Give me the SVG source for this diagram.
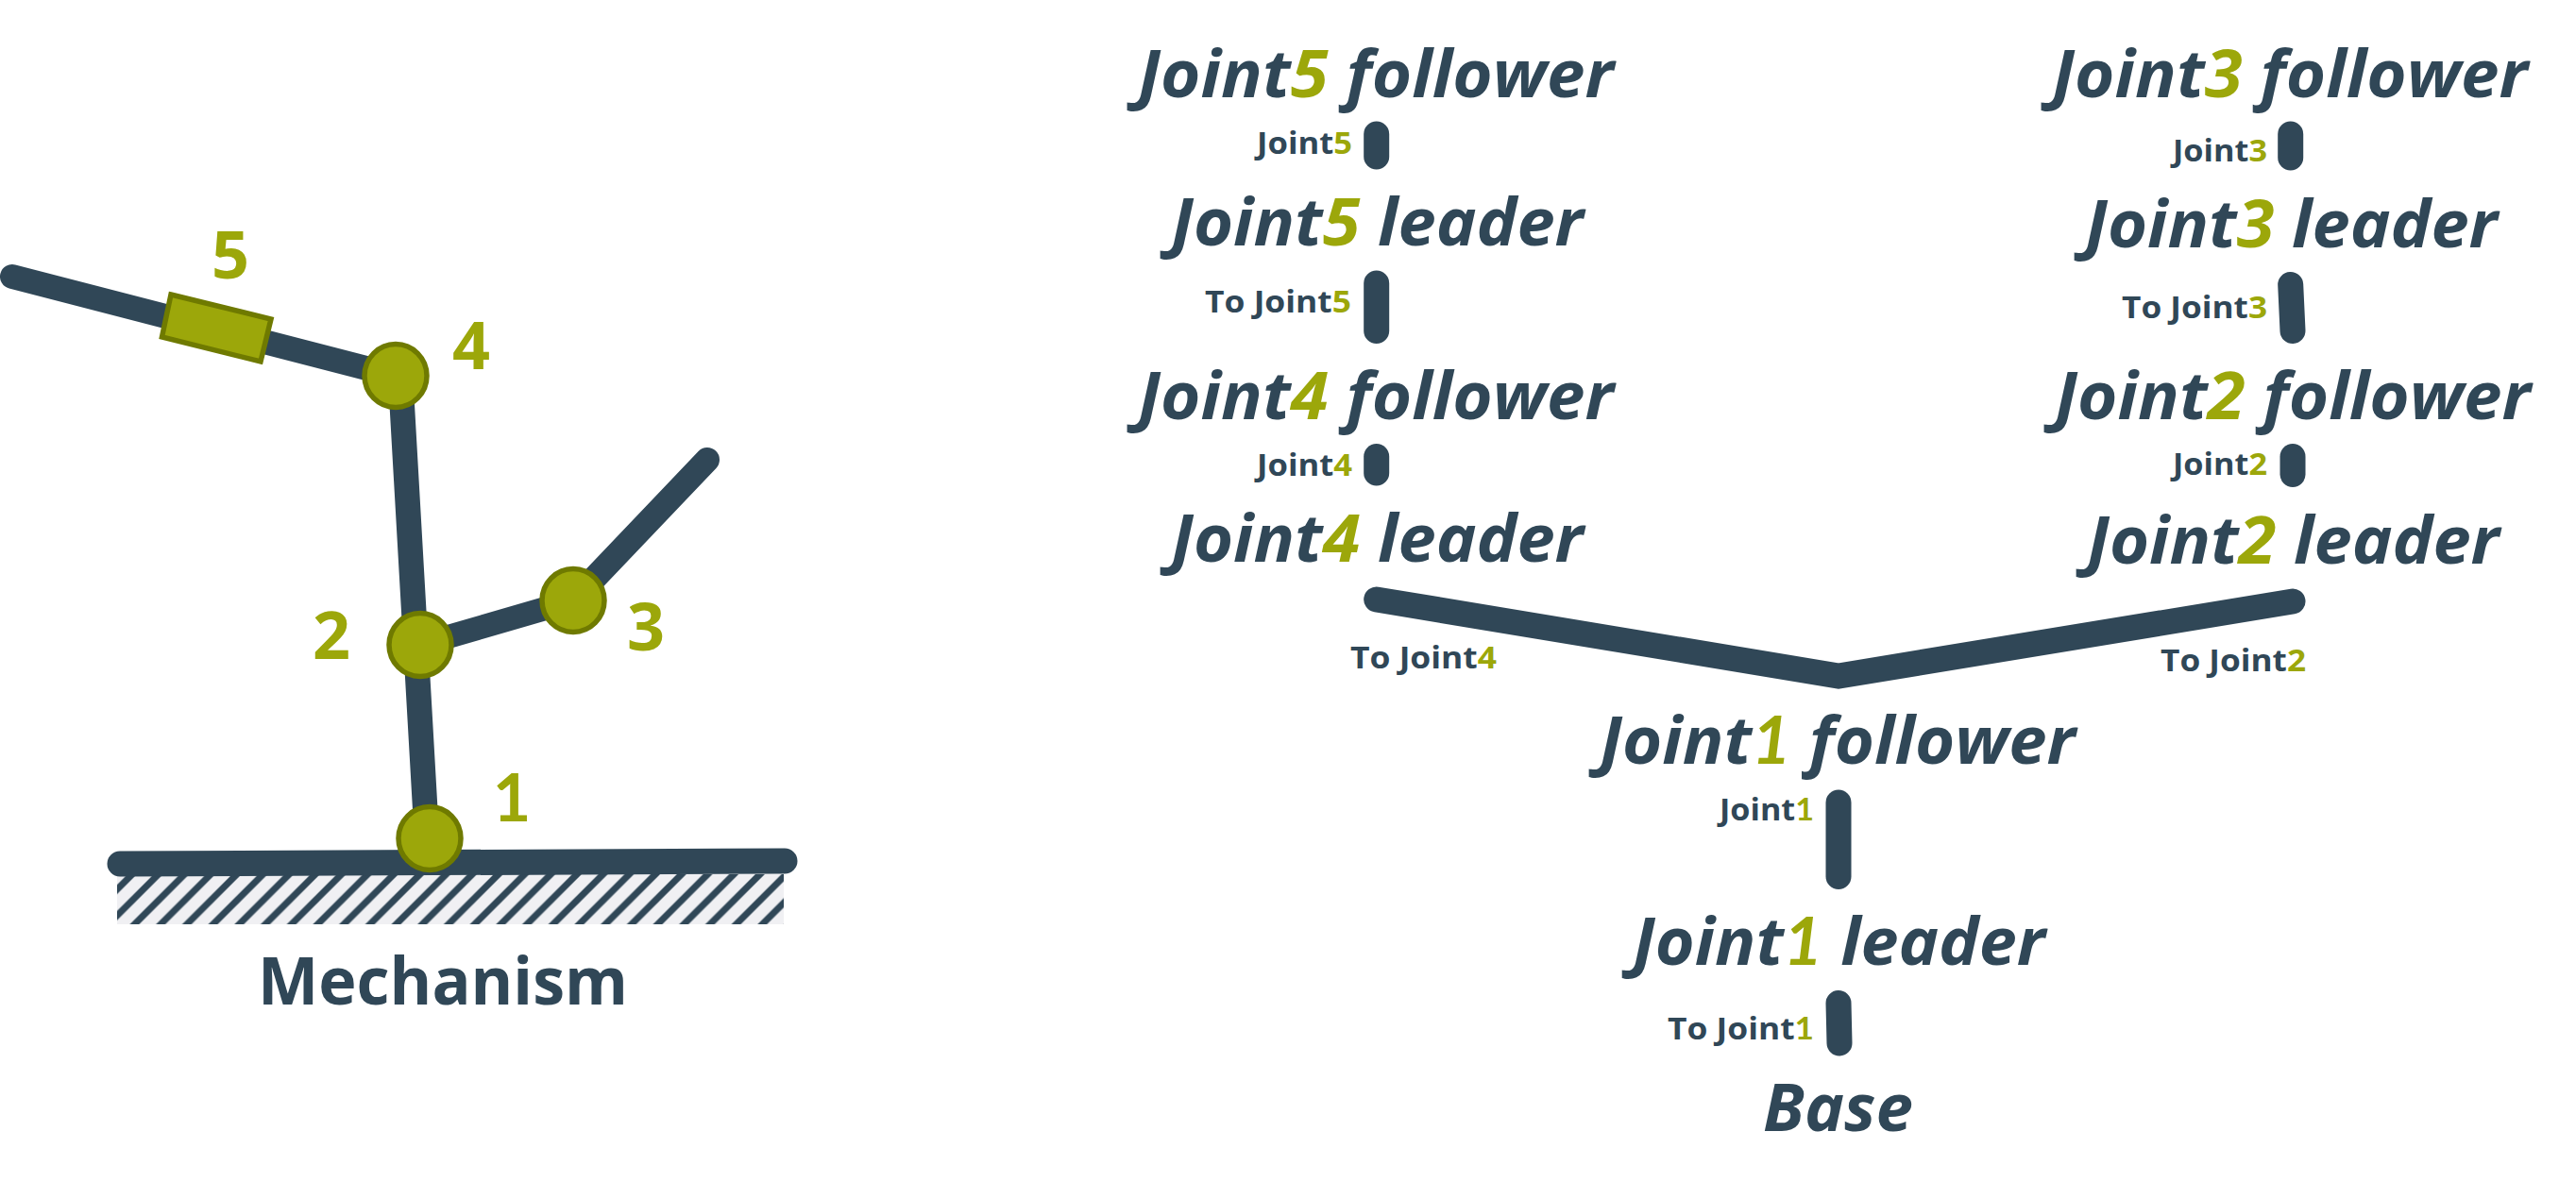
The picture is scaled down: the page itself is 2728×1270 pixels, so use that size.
<svg xmlns="http://www.w3.org/2000/svg" width="2728" height="1270" viewBox="0 0 2728 1270">
<style>
text{font-family:"Open Sans","Noto Sans","DejaVu Sans",sans-serif;fill:#304757}
.n{font-size:70px;font-weight:700;font-style:italic}
.l{font-size:33px;font-weight:700}
.d{font-size:70px;font-weight:700;fill:#9ca70a;text-anchor:middle}
.m{font-size:70px;font-weight:700}
tspan{fill:#9ca70a}
.one{font-family:Lato,"Open Sans",sans-serif}
.c{fill:none;stroke:#304757;stroke-linecap:round;stroke-width:27}
.j{fill:#9ca70a;stroke:#6f7a00;stroke-width:5.5}
</style>
<defs>
<pattern id="hatch" patternUnits="userSpaceOnUse" width="27.7" height="27.7" patternTransform="translate(140.100 926)">
<rect width="27.7" height="27.7" fill="#f0f0f3"/>
<path d="M-7 7L7-7M-7 34.7L34.7-7M20.7 34.7L34.7 20.700" stroke="#304757" stroke-width="7"/>
</pattern>
</defs>
<g id="mechanism">
<rect id="ground-hatch" x="124" y="926" width="706" height="53" fill="url(#hatch)"/>
<g id="links">
<path class="c" d="M127 915L831 912"/>
<path class="c" style="stroke-width:26.500" d="M452 888L424 398"/>
<path class="c" style="stroke-width:26" d="M13 293L419 398"/>
<path class="c" style="stroke-width:25" d="M445 683L607 636"/>
<path class="c" style="stroke-width:26" d="M749 487L607 636"/>
</g>
<g id="joint-1"><ellipse class="j" cx="455" cy="888" rx="33" ry="33.500"/><text class="d one" x="542" y="870">1</text></g>
<g id="joint-2"><ellipse class="j" cx="445" cy="683" rx="33" ry="33.500"/><text class="d" x="351" y="698">2</text></g>
<g id="joint-3"><ellipse class="j" cx="607" cy="636" rx="33" ry="33.500"/><text class="d" x="684" y="689">3</text></g>
<g id="joint-4"><ellipse class="j" cx="419" cy="398" rx="33" ry="33.500"/><text class="d" x="499" y="391">4</text></g>
<g id="joint-5"><path class="j" d="M181 312L287 338L276 383L171.500 357Z"/><text class="d" x="244" y="295">5</text></g>
<text id="mechanism-label" class="m" x="273" y="1064" textLength="392" lengthAdjust="spacingAndGlyphs">Mechanism</text>
</g>
<g id="connectors">
<path class="c" d="M1457.700 142V166"/>
<path class="c" d="M1457.700 300V350.500"/>
<path class="c" d="M1457.700 483.500V501"/>
<path class="c" style="stroke-linejoin:miter" d="M1457.700 635L1947 716L2428 637"/>
<path class="c" d="M2425.700 142V167"/>
<path class="c" d="M2425.700 301.500L2428 350.500"/>
<path class="c" d="M2428 483.500V502.500"/>
<path class="c" d="M1947 850V928.500"/>
<path class="c" d="M1947 1062.500L1948 1105"/>
<text class="l" x="1331" y="163" textLength="101" lengthAdjust="spacingAndGlyphs">Joint<tspan>5</tspan></text>
<text class="l" x="1276" y="331" textLength="155" lengthAdjust="spacingAndGlyphs">To Joint<tspan>5</tspan></text>
<text class="l" x="1331" y="504" textLength="101" lengthAdjust="spacingAndGlyphs">Joint<tspan>4</tspan></text>
<text class="l" x="1430" y="708" textLength="155" lengthAdjust="spacingAndGlyphs">To Joint<tspan>4</tspan></text>
<text class="l" x="2301" y="171" textLength="100" lengthAdjust="spacingAndGlyphs">Joint<tspan>3</tspan></text>
<text class="l" x="2247" y="337" textLength="154" lengthAdjust="spacingAndGlyphs">To Joint<tspan>3</tspan></text>
<text class="l" x="2301" y="503" textLength="100" lengthAdjust="spacingAndGlyphs">Joint<tspan>2</tspan></text>
<text class="l" x="2288" y="711" textLength="154" lengthAdjust="spacingAndGlyphs">To Joint<tspan>2</tspan></text>
<text class="l" x="1821" y="869" textLength="100" lengthAdjust="spacingAndGlyphs">Joint<tspan class="one">1</tspan></text>
<text class="l" x="1766" y="1101" textLength="155" lengthAdjust="spacingAndGlyphs">To Joint<tspan class="one">1</tspan></text>
</g>
<g id="joint5-follower"><text class="n" x="1205" y="102.500" textLength="504" lengthAdjust="spacingAndGlyphs">Joint<tspan>5</tspan> follower</text></g>
<g id="joint5-leader"><text class="n" x="1240" y="260" textLength="437" lengthAdjust="spacingAndGlyphs">Joint<tspan>5</tspan> leader</text></g>
<g id="joint4-follower"><text class="n" x="1205" y="444" textLength="504" lengthAdjust="spacingAndGlyphs">Joint<tspan>4</tspan> follower</text></g>
<g id="joint4-leader"><text class="n" x="1240" y="595" textLength="437" lengthAdjust="spacingAndGlyphs">Joint<tspan>4</tspan> leader</text></g>
<g id="joint3-follower"><text class="n" x="2173" y="102.500" textLength="504" lengthAdjust="spacingAndGlyphs">Joint<tspan>3</tspan> follower</text></g>
<g id="joint3-leader"><text class="n" x="2208" y="262" textLength="437" lengthAdjust="spacingAndGlyphs">Joint<tspan>3</tspan> leader</text></g>
<g id="joint2-follower"><text class="n" x="2176" y="444" textLength="504" lengthAdjust="spacingAndGlyphs">Joint<tspan>2</tspan> follower</text></g>
<g id="joint2-leader"><text class="n" x="2210" y="597" textLength="437" lengthAdjust="spacingAndGlyphs">Joint<tspan>2</tspan> leader</text></g>
<g id="joint1-follower"><text class="n" x="1694" y="809" textLength="504" lengthAdjust="spacingAndGlyphs">Joint<tspan class="one">1</tspan> follower</text></g>
<g id="joint1-leader"><text class="n" x="1729" y="1021.500" textLength="437" lengthAdjust="spacingAndGlyphs">Joint<tspan class="one">1</tspan> leader</text></g>
<g id="base"><text class="n" x="1867" y="1198" textLength="159" lengthAdjust="spacingAndGlyphs">Base</text></g>
</svg>
